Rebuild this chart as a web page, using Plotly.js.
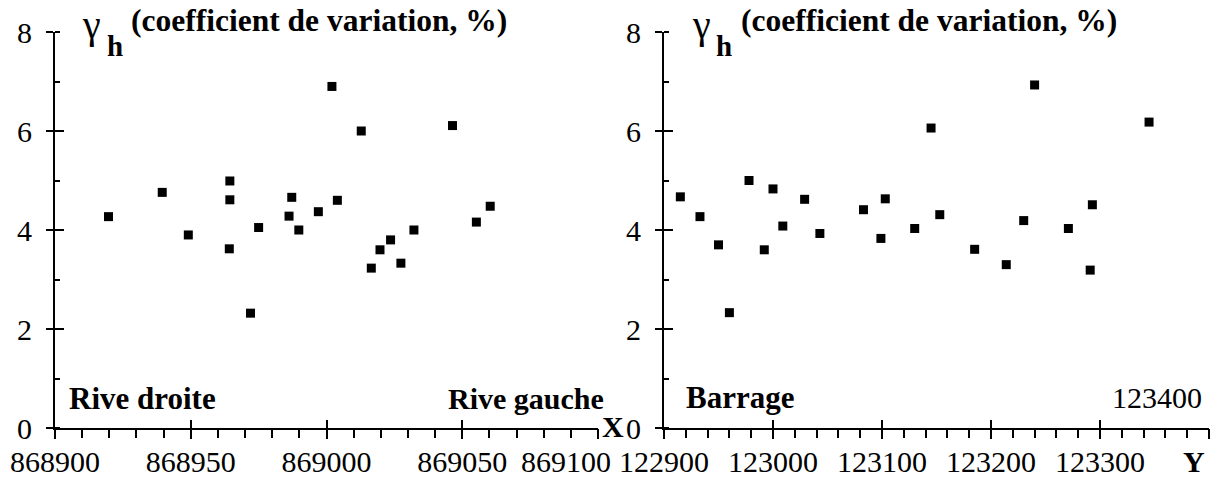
<!DOCTYPE html>
<html>
<head>
<meta charset="utf-8">
<script src="https://cdn.plot.ly/plotly-3.0.1.min.js"></script>
<style>
  html, body { margin: 0; padding: 0; background: #fff; }
  #chart { width: 1218px; height: 479px; }
</style>
</head>
<body>
<div id="chart"></div>
<script>
// ---- Data ----
const leftX = [868919.7, 868939.5, 868949.1, 868964.4, 868964.4, 868964.2, 868972.0, 868975.0,
               868986.2, 868987.2, 868989.8, 868997.0, 869002.0, 869004.0, 869012.8, 869016.5,
               869019.7, 869023.6, 869027.4, 869032.2, 869046.4, 869055.2, 869060.3];
const leftY = [4.27, 4.76, 3.90, 4.99, 4.61, 3.62, 2.32, 4.05,
               4.28, 4.66, 4.00, 4.37, 6.90, 4.60, 6.00, 3.23,
               3.60, 3.80, 3.33, 4.00, 6.11, 4.16, 4.48];
const rightX = [122915, 122933, 122950, 122960, 122978, 122992, 123000, 123009,
                123029, 123043, 123083, 123099, 123103, 123130, 123145, 123153,
                123185, 123214, 123230, 123240, 123271, 123291, 123293, 123345];
const rightY = [4.67, 4.27, 3.70, 2.33, 5.00, 3.60, 4.83, 4.08,
                4.62, 3.93, 4.41, 3.83, 4.63, 4.03, 6.06, 4.31,
                3.61, 3.30, 4.19, 6.93, 4.03, 3.19, 4.51, 6.18];

const leftTickVals = [868900, 868950, 869000, 869050, 869100];
const leftTickText = ['868900', '868950', '869000', '869050', ''];
const rightTickVals = [122900, 123000, 123100, 123200, 123300, 123400];
const rightTickText = ['122900', '123000', '123100', '123200', '123300', ''];
const yTickVals = [0, 2, 4, 6, 8];
const yTickText = ['0', '2', '4', '6', '8'];

const titleMain = '(coefficient de variation, %)';
const gammaSym = 'γ';
const subH = 'h';
const leftLabels = ['Rive droite', 'Rive gauche'];
const rightLabels = ['Barrage', '123400'];
const axisLetters = ['X', 'Y', '869100'];

// ---- Styling ----
const W = 1218, H = 479;
const FONT = '"Liberation Serif", "DejaVu Serif", "Times New Roman", Times, serif';
const px = v => v / W;
const py = v => 1 - v / H;

const leftDom = [px(55), px(598)];
const rightDom = [px(664), px(1209)];
const yDom = [py(428), py(32)];
const leftRange = [868900, 869100];
const rightRange = [122900, 123400];
const yRange = [0, 8];

const markerStyle = { symbol: 'square', size: 9, color: '#000' };

const traces = [
  { x: leftX, y: leftY, xaxis: 'x', yaxis: 'y', type: 'scatter', mode: 'markers',
    marker: markerStyle, hoverinfo: 'x+y' },
  { x: rightX, y: rightY, xaxis: 'x2', yaxis: 'y2', type: 'scatter', mode: 'markers',
    marker: markerStyle, hoverinfo: 'x+y' },
  // transparent helpers so the overlay tick axes get drawn
  { x: leftX, y: leftY, xaxis: 'x3', yaxis: 'y3', type: 'scatter', mode: 'markers',
    marker: { size: 1, opacity: 0 }, hoverinfo: 'skip' },
  { x: rightX, y: rightY, xaxis: 'x4', yaxis: 'y4', type: 'scatter', mode: 'markers',
    marker: { size: 1, opacity: 0 }, hoverinfo: 'skip' }
];

const tickFont = { family: FONT, size: 30, color: '#000' };

// main x axis: major ticks above the line (inside), minor ticks below; labels
function mainX(dom, range, tv, tt, anchor, minorD) {
  return {
    domain: dom, range: range, anchor: anchor, automargin: false,
    tickmode: 'array', tickvals: tv, ticktext: tt,
    ticks: 'inside', ticklen: 8, tickwidth: 2, tickcolor: '#000',
    minor: { tickmode: 'linear', tick0: range[0], dtick: minorD, ticks: 'outside',
             ticklen: 8, tickwidth: 2, tickcolor: '#000', showgrid: false },
    showline: true, linewidth: 2, linecolor: '#000',
    showgrid: false, zeroline: false, tickfont: tickFont, ticklabelstandoff: 6,
    fixedrange: true
  };
}
function mainY(anchor) {
  return {
    domain: yDom, range: yRange, anchor: anchor, automargin: false,
    tickmode: 'array', tickvals: yTickVals, ticktext: yTickText,
    ticks: 'outside', ticklen: 7, tickwidth: 2, tickcolor: '#000',
    minor: { tickmode: 'linear', tick0: 0, dtick: 1, ticks: 'inside',
             ticklen: 5, tickwidth: 2, tickcolor: '#000', showgrid: false },
    showline: true, linewidth: 2, linecolor: '#000',
    showgrid: false, zeroline: false, tickfont: tickFont, ticklabelstandoff: 8,
    fixedrange: true
  };
}
// overlay x axis: major ticks below the line
function overX(over, range, tv, anchor) {
  return {
    overlaying: over, range: range, anchor: anchor, automargin: false,
    tickmode: 'array', tickvals: tv, ticks: 'outside', ticklen: 10, tickwidth: 2,
    tickcolor: '#000', showticklabels: false, showline: false, showgrid: false,
    zeroline: false, fixedrange: true
  };
}
function overY(over, anchor) {
  return {
    overlaying: over, range: yRange, anchor: anchor, side: 'left', automargin: false,
    tickmode: 'array', tickvals: yTickVals, ticks: 'inside', ticklen: 9, tickwidth: 2,
    tickcolor: '#000', showticklabels: false, showline: false, showgrid: false,
    zeroline: false, fixedrange: true
  };
}

function ann(text, x, y, opts) {
  return Object.assign({
    text: text, xref: 'paper', yref: 'paper', x: px(x), y: py(y),
    xanchor: 'center', yanchor: 'middle', showarrow: false,
    font: { family: FONT, size: 30, color: '#000' }
  }, opts || {});
}
const bold = s => '<b>' + s + '</b>';

const annotations = [
  // left title
  ann(gammaSym, 91, 24, { font: { family: FONT, size: 40, color: '#000' } }),
  ann(bold(subH), 115, 46, { font: { family: FONT, size: 29, color: '#000' } }),
  ann(bold(titleMain), 129, 20, { xanchor: 'left', font: { family: FONT, size: 31.5, color: '#000' } }),
  // right title
  ann(gammaSym, 701, 24, { font: { family: FONT, size: 40, color: '#000' } }),
  ann(bold(subH), 724, 46, { font: { family: FONT, size: 29, color: '#000' } }),
  ann(bold(titleMain), 739, 20, { xanchor: 'left', font: { family: FONT, size: 31.5, color: '#000' } }),
  // inner labels
  ann(bold(leftLabels[0]), 67, 398, { xanchor: 'left', font: { family: FONT, size: 31, color: '#000' } }),
  ann(bold(leftLabels[1]), 606, 398, { xanchor: 'right' }),
  ann(bold(rightLabels[0]), 684, 397, { xanchor: 'left', font: { family: FONT, size: 31, color: '#000' } }),
  ann(rightLabels[1], 1204, 397, { xanchor: 'right' }),
  // axis letters
  ann(bold(axisLetters[0]), 613, 426),
  ann(bold(axisLetters[1]), 1194, 461),
  // last left tick label, shifted left as in the reference
  { text: axisLetters[2], xref: 'x', yref: 'paper', x: leftTickVals[4], y: py(461),
    xshift: -32, xanchor: 'center', yanchor: 'middle', showarrow: false,
    font: { family: FONT, size: 30, color: '#000' } }
];

const layout = {
  width: W, height: H,
  margin: { l: 0, r: 0, t: 0, b: 0, pad: 0 },
  font: { family: FONT, size: 30, color: '#000' },
  paper_bgcolor: '#fff', plot_bgcolor: 'rgba(0,0,0,0)',
  showlegend: false,
  xaxis: mainX(leftDom, leftRange, leftTickVals, leftTickText, 'y', 10),
  yaxis: mainY('x'),
  xaxis2: mainX(rightDom, rightRange, rightTickVals, rightTickText, 'y2', 20),
  yaxis2: mainY('x2'),
  xaxis3: overX('x', leftRange, leftTickVals, 'y'),
  yaxis3: overY('y', 'x'),
  xaxis4: overX('x2', rightRange, rightTickVals, 'y2'),
  yaxis4: overY('y2', 'x2'),
  annotations: annotations
};

Plotly.newPlot('chart', traces, layout, { displayModeBar: false, staticPlot: true });
</script>
</body>
</html>
